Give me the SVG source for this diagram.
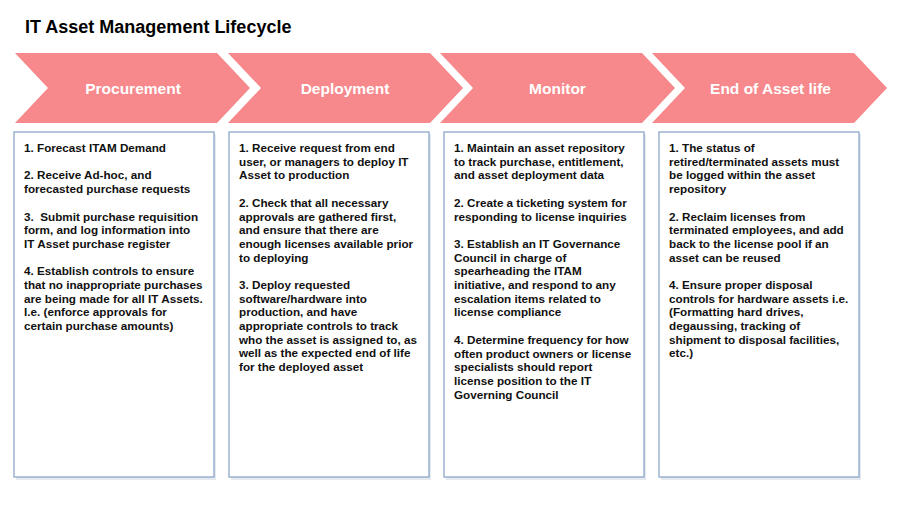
<svg xmlns="http://www.w3.org/2000/svg" width="922" height="519" viewBox="0 0 922 519">
<style>
.title{font-family:"Liberation Sans",Arial,sans-serif;font-weight:bold;font-size:18px;fill:#000}
.chev{fill:#F7888B}
.clabel{font-family:"Liberation Sans",Arial,sans-serif;font-weight:bold;font-size:15.5px;fill:#fff;text-anchor:middle}
.box{fill:#fff;stroke:#8CA7CA;stroke-width:1.3}
.shadow{fill:#E6E9EE}
.body{font-family:"Liberation Sans",Arial,sans-serif;font-weight:bold;font-size:11.7px;fill:#111}
</style>
<rect width="922" height="519" fill="#fff"/>
<text class="title" x="25" y="33">IT Asset Management Lifecycle</text>

<g id="stage-procurement">
<polygon class="chev" points="15,53 217,53 250,88 217,123 15,123 48,88"/>
<text class="clabel" x="133" y="94">Procurement</text>
</g>
<g id="stage-deployment">
<polygon class="chev" points="228,53 430,53 463,88 430,123 228,123 261,88"/>
<text class="clabel" x="345" y="94">Deployment</text>
</g>
<g id="stage-monitor">
<polygon class="chev" points="440,53 642,53 675,88 642,123 440,123 473,88"/>
<text class="clabel" x="557.5" y="94">Monitor</text>
</g>
<g id="stage-end">
<polygon class="chev" points="652,53 854,53 887,88 854,123 652,123 685,88"/>
<text class="clabel" x="770.5" y="94">End of Asset life</text>
</g>

<g id="box-procurement">
<rect class="shadow" x="16" y="134" width="200" height="346"/>
<rect class="box" x="14" y="132" width="200" height="345"/>
<text class="body" x="24" y="152">
<tspan x="24">1. Forecast ITAM Demand</tspan>
<tspan x="24" dy="27.4">2. Receive Ad-hoc, and</tspan>
<tspan x="24" dy="13.7">forecasted purchase requests</tspan>
<tspan x="24" dy="27.4">3.&#160; Submit purchase requisition</tspan>
<tspan x="24" dy="13.7">form, and log information into</tspan>
<tspan x="24" dy="13.7">IT Asset purchase register</tspan>
<tspan x="24" dy="27.4">4. Establish controls to ensure</tspan>
<tspan x="24" dy="13.7">that no inappropriate purchases</tspan>
<tspan x="24" dy="13.7">are being made for all IT Assets.</tspan>
<tspan x="24" dy="13.7">I.e. (enforce approvals for</tspan>
<tspan x="24" dy="13.7">certain purchase amounts)</tspan>
</text>
</g>

<g id="box-deployment">
<rect class="shadow" x="231" y="134" width="200" height="346"/>
<rect class="box" x="229" y="132" width="200" height="345"/>
<text class="body" x="239" y="152">
<tspan x="239">1. Receive request from end</tspan>
<tspan x="239" dy="13.7">user, or managers to deploy IT</tspan>
<tspan x="239" dy="13.7">Asset to production</tspan>
<tspan x="239" dy="27.4">2. Check that all necessary</tspan>
<tspan x="239" dy="13.7">approvals are gathered first,</tspan>
<tspan x="239" dy="13.7">and ensure that there are</tspan>
<tspan x="239" dy="13.7">enough licenses available prior</tspan>
<tspan x="239" dy="13.7">to deploying</tspan>
<tspan x="239" dy="27.4">3. Deploy requested</tspan>
<tspan x="239" dy="13.7">software/hardware into</tspan>
<tspan x="239" dy="13.7">production, and have</tspan>
<tspan x="239" dy="13.7">appropriate controls to track</tspan>
<tspan x="239" dy="13.7">who the asset is assigned to, as</tspan>
<tspan x="239" dy="13.7">well as the expected end of life</tspan>
<tspan x="239" dy="13.7">for the deployed asset</tspan>
</text>
</g>

<g id="box-monitor">
<rect class="shadow" x="446" y="134" width="200" height="346"/>
<rect class="box" x="444" y="132" width="200" height="345"/>
<text class="body" x="454" y="152">
<tspan x="454">1. Maintain an asset repository</tspan>
<tspan x="454" dy="13.7">to track purchase, entitlement,</tspan>
<tspan x="454" dy="13.7">and asset deployment data</tspan>
<tspan x="454" dy="27.4">2. Create a ticketing system for</tspan>
<tspan x="454" dy="13.7">responding to license inquiries</tspan>
<tspan x="454" dy="27.4">3. Establish an IT Governance</tspan>
<tspan x="454" dy="13.7">Council in charge of</tspan>
<tspan x="454" dy="13.7">spearheading the ITAM</tspan>
<tspan x="454" dy="13.7">initiative, and respond to any</tspan>
<tspan x="454" dy="13.7">escalation items related to</tspan>
<tspan x="454" dy="13.7">license compliance</tspan>
<tspan x="454" dy="27.4">4. Determine frequency for how</tspan>
<tspan x="454" dy="13.7">often product owners or license</tspan>
<tspan x="454" dy="13.7">specialists should report</tspan>
<tspan x="454" dy="13.7">license position to the IT</tspan>
<tspan x="454" dy="13.7">Governing Council</tspan>
</text>
</g>

<g id="box-end">
<rect class="shadow" x="661" y="134" width="200" height="346"/>
<rect class="box" x="659" y="132" width="200" height="345"/>
<text class="body" x="669" y="152">
<tspan x="669">1. The status of</tspan>
<tspan x="669" dy="13.7">retired/terminated assets must</tspan>
<tspan x="669" dy="13.7">be logged within the asset</tspan>
<tspan x="669" dy="13.7">repository</tspan>
<tspan x="669" dy="27.4">2. Reclaim licenses from</tspan>
<tspan x="669" dy="13.7">terminated employees, and add</tspan>
<tspan x="669" dy="13.7">back to the license pool if an</tspan>
<tspan x="669" dy="13.7">asset can be reused</tspan>
<tspan x="669" dy="27.4">4. Ensure proper disposal</tspan>
<tspan x="669" dy="13.7">controls for hardware assets i.e.</tspan>
<tspan x="669" dy="13.7">(Formatting hard drives,</tspan>
<tspan x="669" dy="13.7">degaussing, tracking of</tspan>
<tspan x="669" dy="13.7">shipment to disposal facilities,</tspan>
<tspan x="669" dy="13.7">etc.)</tspan>
</text>
</g>

<g id="connectors"></g>
</svg>
